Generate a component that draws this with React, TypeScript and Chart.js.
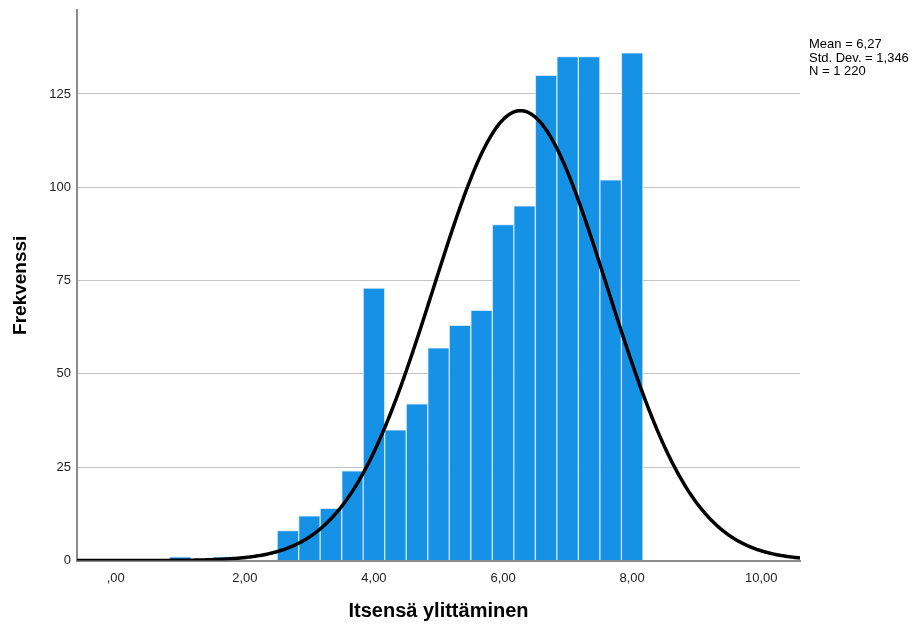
import React, { useEffect, useRef } from "react";
import { Chart, registerables } from "chart.js";

Chart.register(...registerables);

// Histogram bins (bin width 1/3)
const binCenters = [1.0, 1.667, 2.667, 3.0, 3.333, 3.667, 4.0, 4.333, 4.667, 5.0, 5.333, 5.667, 6.0, 6.333, 6.667, 7.0, 7.333, 7.667, 8.0];
const frequencies = [1, 1, 8, 12, 14, 24, 73, 35, 42, 57, 63, 67, 90, 95, 130, 135, 135, 102, 136];

// Summary statistics (shown in the figure)
const MEAN = 6.27;
const STD_DEV = 1.346;
const N = 1220;
const BIN_WIDTH = 1 / 3;

const xTickValues = [0, 2, 4, 6, 8, 10];
const yTickValues = [0, 25, 50, 75, 100, 125];
const statLines = ["Mean = 6,27", "Std. Dev. = 1,346", "N = 1 220"];

const X_MIN = -0.6;
const X_MAX = 10.6;
const Y_MAX = 147.5;

function normalCurve() {
  const pts: { x: number; y: number }[] = [];
  const k = (N * BIN_WIDTH) / (STD_DEV * Math.sqrt(2 * Math.PI));
  for (let i = 0; i <= 560; i++) {
    const x = X_MIN + (i * (X_MAX - X_MIN)) / 560;
    const z = (x - MEAN) / STD_DEV;
    pts.push({ x, y: k * Math.exp(-0.5 * z * z) });
  }
  return pts;
}

const FONT = '"Liberation Sans", Arial, sans-serif';

export default function App() {
  const ref = useRef<HTMLCanvasElement | null>(null);

  useEffect(() => {
    if (!ref.current) return;
    const statsPlugin = {
      id: "stats",
      afterDraw(chart: any) {
        const { ctx, chartArea } = chart;
        ctx.save();
        ctx.font = `13px ${FONT}`;
        ctx.fillStyle = "#000";
        ctx.textBaseline = "alphabetic";
        ctx.textAlign = "left";
        const ys = [48, 61.5, 75];
        statLines.forEach((t, i) => ctx.fillText(t, chartArea.right + 9, ys[i]));
        ctx.restore();
      },
    };

    const chart = new Chart(ref.current, {
      type: "bar",
      data: {
        datasets: [
          {
            type: "line",
            data: normalCurve(),
            borderColor: "#000",
            borderWidth: 3.5,
            pointRadius: 0,
            tension: 0,
            order: 0,
          } as any,
          {
            type: "bar",
            data: binCenters.map((x, i) => ({ x, y: frequencies[i] })),
            backgroundColor: "#1591e6",
            borderColor: "rgba(200,228,250,0.9)",
            borderWidth: 1,
            barPercentage: 1,
            categoryPercentage: 1,
            order: 1,
          } as any,
        ],
      },
      options: {
        responsive: false,
        animation: false,
        events: [],
        layout: { padding: { left: 0, right: 115, top: 10, bottom: 0 } },
        plugins: {
          legend: { display: false },
          tooltip: { enabled: false },
        },
        scales: {
          x: {
            type: "linear",
            min: X_MIN,
            max: X_MAX,
            offset: false,
            afterBuildTicks: (s: any) => {
              s.ticks = xTickValues.map((v) => ({ value: v }));
            },
            afterFit: (s: any) => {
              s.height = 65.5;
              s.paddingLeft = 0;
              s.paddingRight = 0;
            },
            grid: { display: false, drawTicks: false },
            border: { display: true, color: "#8c8c8c", width: 2 },
            ticks: {
              padding: 10,
              font: { family: FONT, size: 13 },
              color: "#222",
              maxRotation: 0,
              autoSkip: false,
              callback: (v: any) => (v === 0 ? ",00" : Number(v).toFixed(2).replace(".", ",")),
            },
            title: {
              display: true,
              text: "Itsensä ylittäminen",
              font: { family: FONT, size: 20, weight: "bold" },
              color: "#000",
              padding: { top: 0, bottom: 3 },
            },
          },
          y: {
            min: 0,
            max: Y_MAX,
            afterBuildTicks: (s: any) => {
              s.ticks = yTickValues.map((v) => ({ value: v }));
            },
            afterFit: (s: any) => {
              s.width = 77;
              s.paddingTop = 0;
              s.paddingBottom = 0;
            },
            grid: { color: "#c4c4c4", lineWidth: 1, drawTicks: false },
            border: { display: true, color: "#8c8c8c", width: 2 },
            ticks: {
              padding: 6,
              font: { family: FONT, size: 13 },
              color: "#222",
              autoSkip: false,
            },
            title: {
              display: true,
              text: "Frekvenssi",
              font: { family: FONT, size: 19, weight: "bold" },
              color: "#000",
              padding: { top: 9, bottom: 0 },
            },
          },
        },
      } as any,
      plugins: [statsPlugin],
    });
    return () => chart.destroy();
  }, []);

  return (
    <div style={{ position: "fixed", left: 0, top: 0, width: 915, height: 626, background: "#fff" }}>
      <canvas ref={ref} width={915} height={626} style={{ width: 915, height: 626 }} />
    </div>
  );
}
